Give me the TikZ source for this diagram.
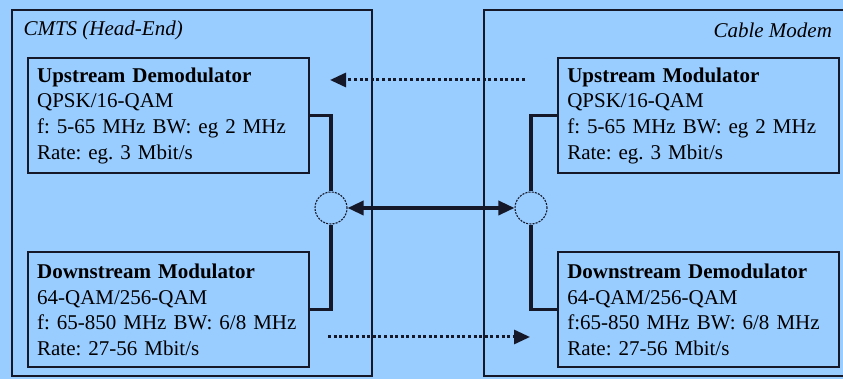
\documentclass[tikz,border=0pt]{standalone}
\usepackage{fontspec}
\setmainfont{Liberation Serif}
\usetikzlibrary{arrows.meta,positioning}
\definecolor{cablesky}{RGB}{153,204,255}
\definecolor{cableink}{RGB}{20,24,40}

\begin{document}
\begin{tikzpicture}[
  x=1pt,y=1pt,
  node distance=77pt and 247pt,
  font=\fontsize{21}{25.6}\selectfont\frenchspacing,
  frame/.style={rectangle,draw=cableink,line width=2.2pt,fill=cablesky,anchor=north west},
  unit/.style={rectangle,draw=cableink,line width=2.2pt,fill=cablesky,minimum height=115pt,text width=263pt,inner xsep=9pt,align=left},
  split/.style={circle,draw=cableink,dash pattern=on 2pt off 1.2pt,line width=1.1pt,fill=cablesky,minimum size=32pt,inner sep=0pt},
  wire/.style={draw=cableink,line width=3.4pt},
  link/.style={{Triangle[length=16pt,width=14pt]}-{Triangle[length=16pt,width=14pt]},draw=cableink,line width=3.4pt},
  hint/.style={-{Triangle[length=16pt,width=14pt]},draw=cableink,line width=3pt,dash pattern=on 3pt off 2.6pt}
]
\useasboundingbox (0,0) rectangle (843,379);
\fill[cablesky] (0,0) rectangle (843,379);
\node[frame,minimum width=360pt,minimum height=366pt] (cmts) at (11,370) {};
\node[frame,minimum width=380pt,minimum height=366pt] (modem) at (483,370) {};
\node[anchor=west] (cmtslabel) at (20,349) {\itshape CMTS (Head-End)};
\node[anchor=west] (modemlabel) at (710,349) {\itshape Cable Modem};
\node[unit,anchor=north west] (updemod) at (27,322) {\textbf{Upstream Demodulator}\\QPSK/16-QAM\\f: 5-65 MHz BW: eg 2 MHz\\Rate: eg. 3 Mbit/s};
\node[unit,right=of updemod] (upmod) {\textbf{Upstream Modulator}\\QPSK/16-QAM\\f: 5-65 MHz BW: eg 2 MHz\\Rate: eg. 3 Mbit/s};
\node[unit,below=of updemod] (downmod) {\textbf{Downstream Modulator}\\64-QAM/256-QAM\\f: 65-850 MHz BW: 6/8 MHz\\Rate: 27-56 Mbit/s};
\node[unit,right=of downmod] (downdemod) {\textbf{Downstream Demodulator}\\64-QAM/256-QAM\\f:65-850 MHz BW: 6/8 MHz\\Rate: 27-56 Mbit/s};
\node[split] (lsplit) at (331,171) {};
\node[split] (rsplit) at (531,171) {};
\coordinate (upfrom) at (525,299);
\coordinate (upto) at (330,299);
\coordinate (downfrom) at (328,42);
\coordinate (downto) at (530,42);
\draw[wire] (updemod.east) -| (lsplit.north);
\draw[wire] (downmod.east) -| (lsplit.south);
\draw[wire] (upmod.west) -| (rsplit.north);
\draw[wire] (downdemod.west) -| (rsplit.south);
\draw[link] (lsplit) -- (rsplit);
\draw[hint] (upfrom) -- (upto);
\draw[hint] (downfrom) -- (downto);
\end{tikzpicture}
\end{document}
